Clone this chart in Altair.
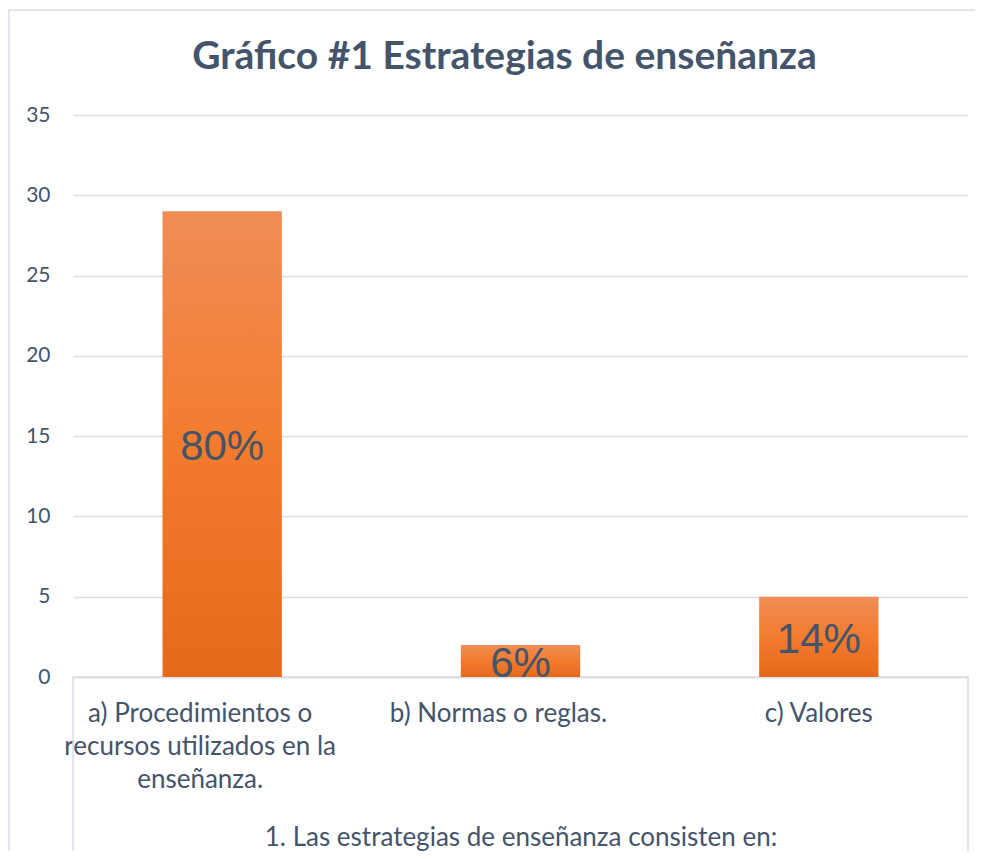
import altair as alt
import pandas as pd

categories = [
    "a) Procedimientos o|recursos  utilizados en la|enseñanza.",
    "b)  Normas o reglas.",
    "c) Valores",
]
values = [29, 2, 5]
percent_labels = ["80%", "6%", "14%"]
y_ticks = [0, 5, 10, 15, 20, 25, 30, 35]

df = pd.DataFrame({"cat": categories, "val": values, "pct": percent_labels})

TEXT = "#44546a"
GRID = "#d9dee6"
FONT = "Lato"

W, H = 895, 562

x_enc = alt.X(
    "cat:N",
    sort=categories,
    scale=alt.Scale(paddingInner=0.6, paddingOuter=0.3),
    axis=alt.Axis(
        title="1. Las estrategias de enseñanza consisten en:",
        labelExpr="split(datum.label, '|')",
        labelAngle=0,
        labelAlign="center",
        labelBaseline="top",
        labelFont=FONT,
        labelFontSize=26,
        labelColor=TEXT,
        labelLineHeight=33,
        labelPadding=23,
        labelOffset={"condition": {"test": "indexof(datum.label, 'c)') == 0", "value": 0}, "value": -22},
        ticks=False,
        domainColor=GRID,
        domainWidth=1.5,
        titleFont=FONT,
        titleFontSize=26,
        titleFontWeight="normal",
        titleColor=TEXT,
        titlePadding=32,
        labelLimit=400,
    ),
)

y_enc = alt.Y(
    "val:Q",
    scale=alt.Scale(domain=[0, 35]),
    axis=alt.Axis(
        title=None,
        values=y_ticks,
        grid=True,
        gridColor=GRID,
        gridWidth=1.5,
        domain=False,
        ticks=False,
        labelFont=FONT,
        labelFontSize=21,
        labelColor=TEXT,
        labelPadding=23,
    ),
)

gradient = alt.Gradient(
    gradient="linear",
    x1=0, y1=0, x2=0, y2=1,
    stops=[
        alt.GradientStop(color="#f08d56", offset=0),
        alt.GradientStop(color="#f37b2e", offset=0.5),
        alt.GradientStop(color="#e5691b", offset=1),
    ],
)

bars = alt.Chart(df).mark_bar(fill=gradient).encode(x=x_enc, y=y_enc)

texts = (
    alt.Chart(df)
    .transform_calculate(mid="datum.val / 2")
    .mark_text(font="Liberation Sans", fontSize=42, color=TEXT, baseline="middle", align="center", dy=3)
    .encode(x=alt.X("cat:N", sort=categories), y=alt.Y("mid:Q"), text="pct:N")
)

# decorative frame lines (category box and outer chart border)
deco_df = pd.DataFrame({"k": [0]})
cat_box = alt.Chart(deco_df).mark_rect(fill="transparent", stroke=GRID, strokeWidth=1.5).encode(
    x=alt.value(0), x2=alt.value(W), y=alt.value(H), y2=alt.value(H + 220)
)
outer_box = alt.Chart(deco_df).mark_rect(fill="transparent", stroke=GRID, strokeWidth=1.5).encode(
    x=alt.value(-64), x2=alt.value(W + 60), y=alt.value(-105), y2=alt.value(H + 240)
)

chart = (
    alt.layer(outer_box, cat_box, bars, texts)
    .properties(
        width=W,
        height=H,
        autosize=alt.AutoSizeParams(type="none"),
        padding={"left": 65, "top": 107, "right": 7, "bottom": 174},
        title=alt.TitleParams(
            text="Gráfico #1 Estrategias de enseñanza",
            font=FONT,
            fontSize=39,
            fontWeight="bold",
            color=TEXT,
            anchor="middle",
            dx=-16,
            offset=-68,
        ),
    )
    .configure(
        background="white",
        view=alt.ViewConfig(strokeWidth=0, stroke="transparent"),
    )
)

chart.save("out.html", embed_options={"renderer": "svg", "actions": False})
